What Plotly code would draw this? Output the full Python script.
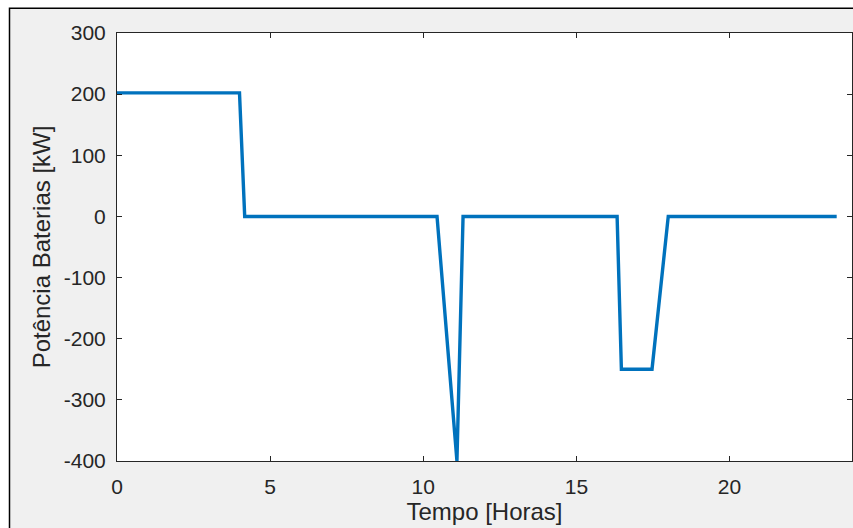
import plotly.graph_objects as go

# Battery power profile over the day
hours = [0.0, 4.0, 4.17, 10.45, 11.1, 11.3, 16.33, 16.47, 17.47, 18.0, 23.5]
power_kw = [202, 202, 0, 0, -400, 0, 0, -250, -250, 0, 0]

x_ticks = [0, 5, 10, 15, 20]
y_ticks = [-400, -300, -200, -100, 0, 100, 200, 300]
x_tick_labels = [str(v) for v in x_ticks]
y_tick_labels = [str(v) for v in y_ticks]  # plain hyphen for negatives

W, H = 853, 528
ML, MR, MT, MB = 117, 1, 33, 67
PW, PH = W - ML - MR, H - MT - MB


def xp(px):
    return (px - ML) / PW


def yp(py):
    return (H - MB - py) / PH


axis_color = "#262626"
font_family = "Liberation Sans, Arial, sans-serif"

fig = go.Figure()
fig.add_trace(go.Scatter(
    x=hours, y=power_kw, mode="lines",
    line=dict(color="#0072BD", width=3.4),
    showlegend=False,
))

axis_common = dict(
    showline=True, linecolor=axis_color, linewidth=1,
    mirror="ticks", ticks="inside", ticklen=5, tickwidth=1, tickcolor=axis_color,
    showgrid=False, zeroline=False,
    tickfont=dict(family=font_family, size=21, color=axis_color),
)

fig.update_xaxes(
    range=[0, 24], tickvals=x_ticks, ticktext=x_tick_labels,
    title=dict(text="Tempo [Horas]", font=dict(family=font_family, size=24, color=axis_color), standoff=4),
    ticklabelstandoff=7,
    **axis_common,
)
fig.update_yaxes(
    range=[-400, 300], tickvals=y_ticks, ticktext=y_tick_labels,
    title=dict(text="Potência Baterias [kW]", font=dict(family=font_family, size=24, color=axis_color), standoff=6),
    ticklabelstandoff=6,
    **axis_common,
)

# Figure frame: white outer strip and a black border around the grey panel
shapes = [
    dict(type="rect", xref="paper", yref="paper", x0=xp(-5), x1=xp(9.5), y0=yp(H + 5), y1=yp(-5),
         fillcolor="white", line=dict(width=0), layer="above"),
    dict(type="rect", xref="paper", yref="paper", x0=xp(-5), x1=xp(W + 5), y0=yp(8.3), y1=yp(-5),
         fillcolor="white", line=dict(width=0), layer="above"),
    dict(type="rect", xref="paper", yref="paper", x0=xp(9.5), x1=xp(W + 10), y0=yp(H + 10), y1=yp(8.3),
         fillcolor="rgba(0,0,0,0)", line=dict(color="black", width=1.5), layer="above"),
]

fig.update_layout(
    width=W, height=H,
    margin=dict(l=ML, r=MR, t=MT, b=MB, pad=0),
    paper_bgcolor="#f0f0f0", plot_bgcolor="white",
    font=dict(family=font_family, color=axis_color),
    shapes=shapes,
)

fig.write_html("out.html")
